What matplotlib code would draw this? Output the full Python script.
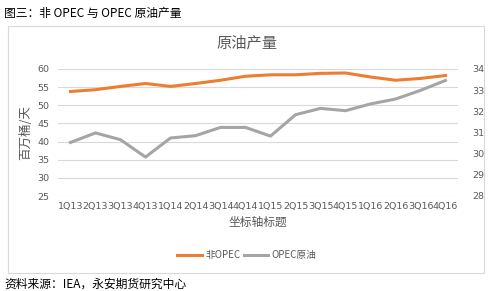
import matplotlib.pyplot as plt
from matplotlib.patches import Rectangle
import numpy as np

plt.rcParams['font.family'] = ['Noto Sans CJK SC', 'DejaVu Sans']

quarters = ['1Q13', '2Q13', '3Q13', '4Q13', '1Q14', '2Q14', '3Q14', '4Q14',
            '1Q15', '2Q15', '3Q15', '4Q15', '1Q16', '2Q16', '3Q16', '4Q16']
non_opec = [53.8, 54.3, 55.2, 56.0, 55.2, 56.0, 56.9, 58.0,
            58.4, 58.4, 58.8, 58.9, 57.8, 56.9, 57.4, 58.2]
opec_crude = [30.53, 30.98, 30.66, 29.84, 30.74, 30.85, 31.24, 31.24,
              30.83, 31.84, 32.14, 32.03, 32.35, 32.58, 32.99, 33.46]

txt = '#595959'
grid = '#d9d9d9'

fig = plt.figure(figsize=(5, 2.91), dpi=100)

# chart frame
fig.patches.append(Rectangle((8 / 500, 1 - 273 / 291), 476 / 500, 247 / 291,
                             transform=fig.transFigure, fill=False,
                             edgecolor=grid, linewidth=0.8))

fig.text(4 / 500, 1 - 13 / 291, '图三：非 OPEC 与 OPEC 原油产量', fontsize=8.5,
         color='black', va='center', ha='left')
fig.text(4 / 500, 1 - 284 / 291, '资料来源：IEA，永安期货研究中心', fontsize=8.5,
         color='black', va='center', ha='left')
fig.text(247 / 500, 1 - 43 / 291, '原油产量', fontsize=11, color=txt,
         va='center', ha='center')

ax = fig.add_axes([58 / 500, 1 - 196 / 291, 400 / 500, 127 / 291])
ax2 = ax.twinx()

x = np.arange(len(quarters))
l1, = ax.plot(x, non_opec, color='#ED7D31', lw=2.2, label='非OPEC')
l2, = ax2.plot(x, opec_crude, color='#A5A5A5', lw=2.2, label='OPEC原油')

ax.set_xlim(-0.5, len(quarters) - 0.5)
ax.set_ylim(25, 60)
ax.set_yticks(np.arange(25, 61, 5))
ax2.set_ylim(28, 34)
ax2.set_yticks(np.arange(28, 35, 1))

ax.set_xticks(x)
ax.set_xticklabels(quarters)
ax.grid(axis='y', color=grid, lw=0.8)
ax.set_axisbelow(True)

for a in (ax, ax2):
    for s in a.spines.values():
        s.set_visible(False)
    a.tick_params(length=0, colors=txt, labelsize=6.8)
    for lab in a.get_xticklabels() + a.get_yticklabels():
        lab.set_family('DejaVu Sans')
ax.tick_params(axis='y', pad=6)
ax2.tick_params(axis='y', pad=10)
ax.tick_params(axis='x', pad=4)

ax.set_xlabel('坐标轴标题', fontsize=8.5, color=txt, labelpad=4)
ax.set_ylabel('百万桶/天', fontsize=9, color=txt, labelpad=4)

fig.legend(handles=[l1, l2], loc='center', bbox_to_anchor=(247 / 500, 1 - 255 / 291),
           ncol=2, frameon=False, fontsize=7, labelcolor=txt, handlelength=2.5,
           columnspacing=0.3, handletextpad=0.4)

fig.savefig('out.png', dpi=100)
